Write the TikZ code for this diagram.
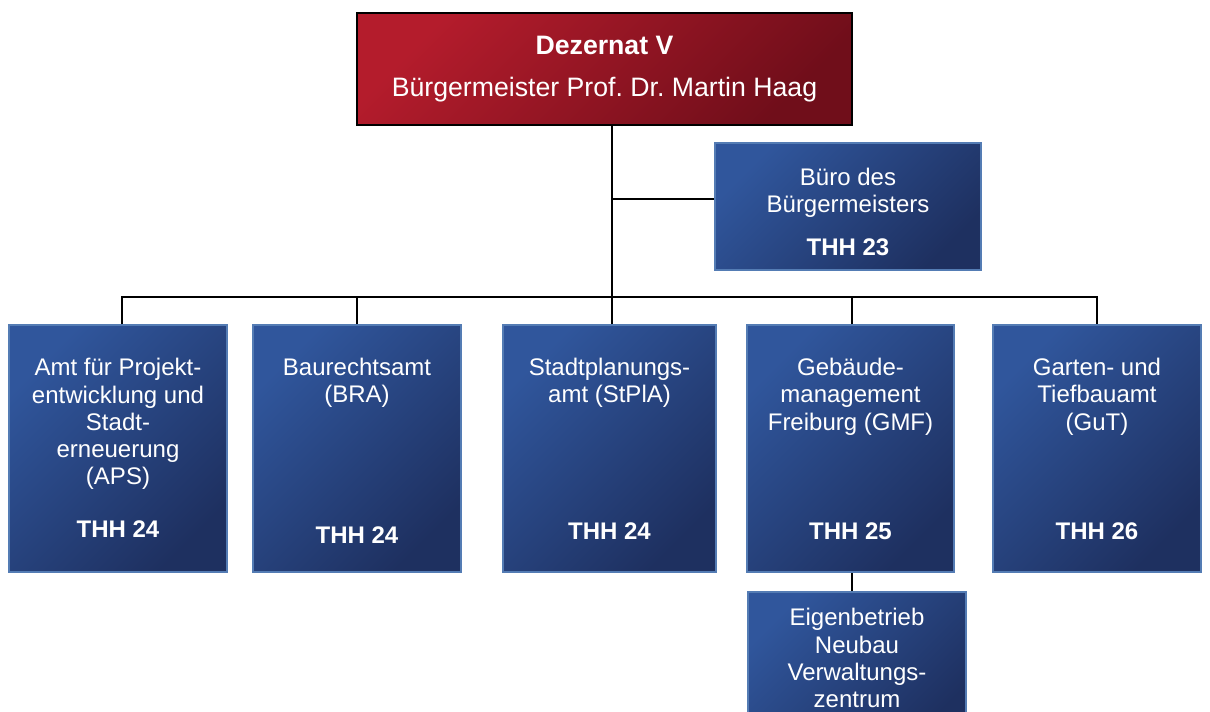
\documentclass[tikz,border=0pt]{standalone}
\usepackage{fontspec}
\setmainfont{Liberation Sans}
\usetikzlibrary{positioning}
\frenchspacing

\definecolor{headred}{RGB}{180,28,44}
\definecolor{headdark}{RGB}{112,14,26}
\definecolor{unitblue}{RGB}{48,86,156}
\definecolor{unitdark}{RGB}{30,48,96}
\definecolor{unitedge}{RGB}{84,124,180}

\begin{document}
\begin{tikzpicture}[
      x=0.75pt, y=-0.75pt,
      headbox/.style={rectangle, draw=black, line width=2pt,
                      top color=headred, bottom color=headdark,
                      shading angle=45, inner sep=0pt},
      unitbox/.style={rectangle, draw=unitedge, line width=1.5pt,
                      top color=unitblue, bottom color=unitdark,
                      shading angle=45, inner sep=0pt},
      headtext/.style={text=white, align=center, anchor=north, inner sep=0pt,
                       font=\fontsize{20}{24}\selectfont},
      unittext/.style={text=white, align=center, anchor=north, inner sep=0pt,
                       font=\fontsize{18}{20.5}\selectfont},
      thh/.style={text=white, anchor=base, inner sep=0pt,
                  font=\fontsize{18}{20.5}\selectfont\bfseries},
      link/.style={draw=black, line width=1.3pt},
    ]
    \useasboundingbox (0,0) rectangle (1210,711);

    % Dezernat
    \node[headbox, minimum width=371.25pt, minimum height=84pt] (head) at (604.5,69) {};
    \node[headtext] (headname) at (604.5,36)
      {\textbf{Dezernat V}\\[7.5pt]Bürgermeister Prof. Dr. Martin Haag};

    % Buero
    \node[unitbox, minimum width=199.5pt, minimum height=95.25pt] (buero) at (848,206.5) {};
    \node[unittext] (bueroname) at (848,168) {Büro des\\Bürgermeisters};
    \node[thh] (buerothh) at (848,255) {THH 23};

    % Aemter
    \node[unitbox, minimum width=163.5pt, minimum height=185.25pt] (aps) at (118,448.5) {};
    \node[unittext] (apsname) at (118,358)
      {Amt für Projekt-\\entwicklung und\\Stadt-\\erneuerung\\(APS)};
    \node[thh] (apsthh) at (118,537) {THH 24};

    \node[unitbox, minimum width=156pt, minimum height=185.25pt] (bra) at (357,448.5) {};
    \node[unittext] (braname) at (357,358) {Baurechtsamt\\(BRA)};
    \node[thh] (brathh) at (357,543) {THH 24};

    \node[unitbox, minimum width=159.75pt, minimum height=185.25pt] (stpla) at (609.5,448.5) {};
    \node[unittext] (stplaname) at (609.5,358) {Stadtplanungs-\\amt (StPlA)};
    \node[thh] (stplathh) at (609.5,539) {THH 24};

    \node[unitbox, minimum width=155.25pt, minimum height=185.25pt] (gmf) at (850.5,448.5) {};
    \node[unittext] (gmfname) at (850.5,358) {Gebäude-\\management\\Freiburg (GMF)};
    \node[thh] (gmfthh) at (850.5,539) {THH 25};

    \node[unitbox, minimum width=156pt, minimum height=185.25pt] (gut) at (1097,448.5) {};
    \node[unittext] (gutname) at (1097,358) {Garten- und\\Tiefbauamt\\(GuT)};
    \node[thh] (gutthh) at (1097,539) {THH 26};

    % Eigenbetrieb
    \node[unitbox, minimum width=163.5pt, minimum height=111pt] (evz) at (857,666) {};
    \node[unittext] (evzname) at (857,608)
      {Eigenbetrieb\\Neubau\\Verwaltungs-\\zentrum};

    % Linien
    \coordinate (bus) at (612,297);
    \coordinate (bueroin) at (612,199);
    \coordinate (gmfdrop) at (852,297);
    \draw[link] (head.south -| bus) -- (bus);
    \draw[link] (bueroin) -- (bueroin -| buero.west);
    \draw[link] ([xshift=3pt]aps.north) |- (bus) -| (gut.north);
    \draw[link] (bra.north) -- (bra.north |- bus);
    \draw[link] (stpla.north -| bus) -- (bus);
    \draw[link] (gmf.north -| gmfdrop) -- (gmfdrop);
    \draw[link] (gmf.south -| gmfdrop) -- (evz.north -| gmfdrop);

  \end{tikzpicture}
\end{document}
